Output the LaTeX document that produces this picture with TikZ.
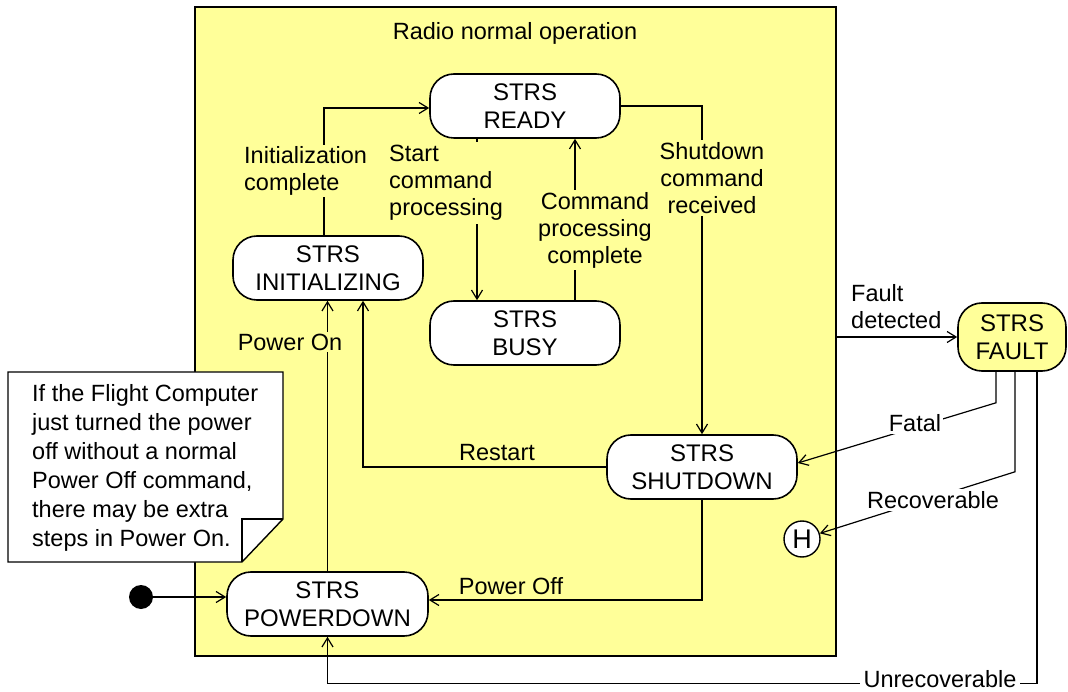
\documentclass[tikz,border=0pt]{standalone}
\usepackage{fontspec}
\setmainfont{Liberation Sans}
\usetikzlibrary{arrows.meta}
\definecolor{yel}{RGB}{255,255,153}
\begin{document}
\begin{tikzpicture}[x=1pt,y=-1pt,
  statebox/.style={draw, line width=1.6pt, rounded corners=24pt, fill=white, minimum width=190pt, minimum height=64pt, inner sep=0pt, align=center, font=\fontsize{24}{28.5}\selectfont},
  lbl/.style={inner sep=2pt, font=\fontsize{23.5}{27}\selectfont},
  arr/.style={line width=1.2pt, -{Straight Barb[length=9pt,width=11pt]}},
  ln/.style={line width=1.2pt}]
\useasboundingbox (0,0) rectangle (1068,692);
% container
\node[draw, line width=1.4pt, fill=yel, minimum width=641pt, minimum height=649pt, inner sep=0pt] (rno) at (515.5,331.5) {};
\node[lbl] (title) at (515,33) {Radio normal operation};
% states
\node[statebox] (ready) at (525,106) {STRS\\READY};
\node[statebox] (init) at (328,268) {STRS\\INITIALIZING};
\node[statebox] (busy) at (525,333) {STRS\\BUSY};
\node[statebox] (sd) at (702,467) {STRS\\SHUTDOWN};
\node[statebox, minimum width=201pt] (pd) at (327.5,604) {STRS\\POWERDOWN};
\node[statebox, fill=yel, minimum width=108pt, minimum height=68pt] (fault) at (1012,337) {STRS\\FAULT};
\node[draw, circle, line width=1.4pt, fill=white, minimum size=36pt, inner sep=0pt, font=\fontsize{27}{27}\selectfont] (hist) at (802,539) {H};
\node[circle, fill=black, minimum size=24pt, inner sep=0pt] (start) at (141,597) {};
% connectors
\draw[arr] (start) -- (pd.west |- start);
\draw[arr] (pd.north) -- (pd.north |- init.south);
\draw[arr] ([xshift=-4pt]init.north) |- ([yshift=-2pt]ready.west);
\draw[arr] ([xshift=-48pt]ready.south) -- ([xshift=-48pt]busy.north);
\draw[arr] ([xshift=50pt]busy.north) -- ([xshift=50pt]ready.south);
\draw[arr] (ready.east) -| (sd.north);
\draw[arr] (sd.west) -| ([xshift=35pt]init.south);
\draw[arr] (sd.south) |- ([yshift=4pt]pd.east);
\draw[arr] (rno.east |- fault.west) -- (fault.west);
\draw[arr] ([xshift=-16pt]fault.south) -- ++(0,31) -- ([yshift=4pt]sd.east);
\draw[arr] ([xshift=3pt]fault.south) -- ++(0,100) -- (hist);
\draw[arr] ([xshift=25pt]fault.south) -- ++(0,312) -| (pd.south);
% labels
\node[lbl, fill=yel, align=left, anchor=west] (linit) at (242,171) {Initialization\\complete};
\node[lbl, fill=yel, align=left, anchor=west, inner sep=3pt] (lstart) at (386,183) {Start\\command\\processing};
\node[lbl, fill=yel, align=center] (lcpc) at (595,230) {Command\\processing\\complete};
\node[lbl, fill=yel, align=center] (lsdc) at (712,178) {Shutdown\\command\\received};
\node[lbl, fill=yel] (lpon) at (290,342) {Power On};
\node[lbl] (lrestart) at (497,453) {Restart};
\node[lbl] (lpoff) at (511,586) {Power Off};
\node[lbl, align=left, anchor=west] (lfault) at (849,307) {Fault\\detected};
\node[lbl, fill=white] (lfatal) at (915,423) {Fatal};
\node[lbl, fill=white] (lrec) at (933,500) {Recoverable};
\node[lbl, fill=white, inner sep=4pt] (lunrec) at (940,679) {Unrecoverable};
% note
\draw[line width=1.4pt, fill=white] (8,372) -- (283,372) -- (283,519) -- (242,562) -- (8,562) -- cycle;
\draw[line width=1.2pt] (242,562) -- (242,519) -- (283,519);
\node[align=left, anchor=west, inner sep=0pt, font=\fontsize{23.5}{29}\selectfont] (note) at (32,467.5) {If the Flight Computer\\just turned the power\\off without a normal\\Power Off command,\\there may be extra\\steps in Power On.};
\end{tikzpicture}
\end{document}
